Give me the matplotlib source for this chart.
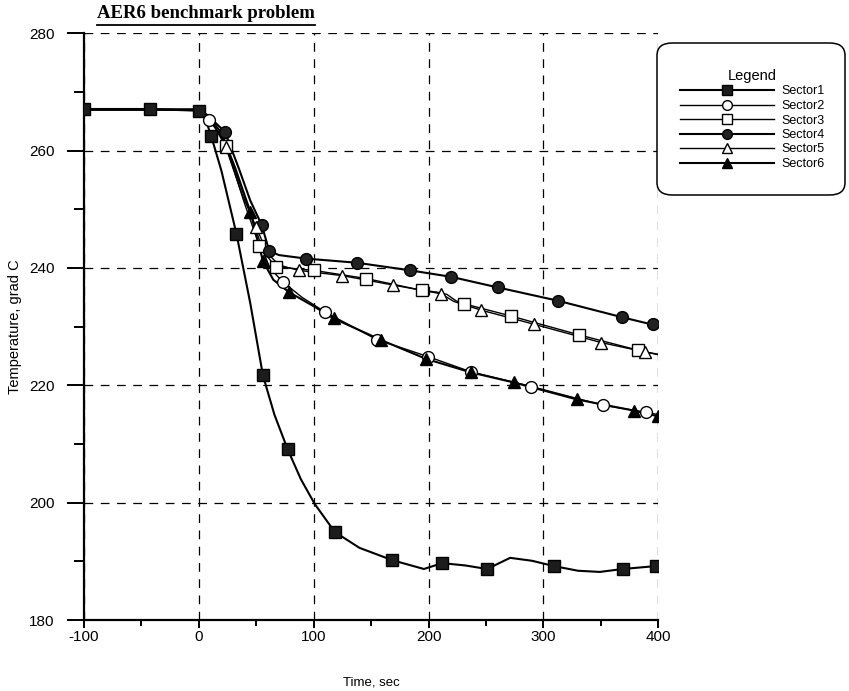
import matplotlib
matplotlib.use("Agg")
import matplotlib.pyplot as plt
from matplotlib.lines import Line2D
from matplotlib.patches import FancyBboxPatch
from matplotlib.ticker import MultipleLocator

plt.rcParams['font.family'] = ['Liberation Sans', 'DejaVu Sans']
plt.rcParams['axes.unicode_minus'] = False

# Sector1 - filled squares, thick line
s1_t = [-100, -42, 0, 5, 11, 20, 33, 45, 56, 66, 77.5, 89, 101, 118.5, 140, 168.5,
        196, 212, 232, 251, 271, 290, 309, 330, 349, 369, 398]
s1_T = [267.1, 267.1, 266.8, 266, 262.5, 256.5, 245.8, 234.0, 221.7, 215.0, 209.1, 204, 199.8,
        195, 192.3, 190.2, 188.7, 189.7, 189.3, 188.7, 190.6, 190.1, 189.2, 188.4, 188.2, 188.7, 189.2]
s1_mt = [-100, -42, 0, 11, 33, 56, 77.5, 118.5, 168.5, 212, 251, 309, 369, 398]
s1_mT = [267.1, 267.1, 266.8, 262.5, 245.8, 221.7, 209.1, 195, 190.2, 189.7, 188.7, 189.2, 188.7, 189.2]

# Sector2 - open circles
s2_t = [-100, 0, 9, 20, 32, 45, 55, 62, 73.5, 90, 110, 155, 199.5, 237, 289.5, 352, 389.5, 400]
s2_T = [267, 267, 265.2, 262.5, 256.5, 249.5, 243.5, 240, 237.6, 235, 232.5, 227.8, 224.9,
        222.3, 219.8, 216.6, 215.4, 215.0]
s2_mt = [9, 73.5, 110, 155, 199.5, 237, 289.5, 352, 389.5]
s2_mT = [265.2, 237.6, 232.5, 227.8, 224.9, 222.3, 219.8, 216.6, 215.4]

# Sector3 - open squares
s3_t = [-100, 0, 10, 24, 40, 53, 67, 100, 146, 194, 207, 216, 224, 231, 272, 331, 382, 400]
s3_T = [267, 267, 265.5, 260.8, 251, 243.7, 240.2, 239.6, 238.2, 236.2, 235.9, 235.5, 234.4,
        233.9, 231.8, 228.6, 226.0, 225.2]
s3_mt = [24, 53, 67, 100, 146, 194, 231, 272, 331, 382]
s3_mT = [260.8, 243.7, 240.2, 239.6, 238.2, 236.2, 233.9, 231.8, 228.6, 226.0]

# Sector4 - filled circles, thick line
s4_t = [-100, 0, 8, 23, 35, 45, 55, 61.5, 70, 93.5, 137.5, 184, 219.5, 260, 313, 368.5, 400]
s4_T = [267, 267, 266, 263.2, 257, 251.5, 247.3, 242.9, 242.2, 241.6, 240.9, 239.6, 238.5,
        236.7, 234.4, 231.6, 230.1]
s4_mt = [23, 55, 61.5, 93.5, 137.5, 184, 219.5, 260, 313, 368.5, 395.5]
s4_mT = [263.2, 247.3, 242.9, 241.6, 240.9, 239.6, 238.5, 236.7, 234.4, 231.6, 230.4]

# Sector5 - open triangles
s5_t = [-100, 0, 10, 23.5, 38, 50, 60, 70, 87, 125, 169, 211, 222, 246, 292, 350, 388, 400]
s5_T = [267, 267, 265.5, 260.7, 252.5, 247, 242.5, 240.5, 239.6, 238.7, 237.1, 235.6, 234.3,
        232.8, 230.4, 227.3, 225.7, 225.3]
s5_mt = [23.5, 50, 87, 125, 169, 211, 246, 292, 350, 388]
s5_mT = [260.7, 247, 239.6, 238.7, 237.1, 235.6, 232.8, 230.4, 227.3, 225.7]

# Sector6 - filled triangles, thick line
s6_t = [-100, 0, 8, 20, 32, 45, 56, 65, 78.5, 100, 117.5, 159, 198, 237, 274, 329, 378.5, 400]
s6_T = [267, 267, 266, 263, 257, 249.6, 241.2, 238, 235.9, 233.5, 231.4, 227.7, 224.5, 222.2,
        220.5, 217.6, 215.7, 214.7]
s6_mt = [45, 56, 78.5, 117.5, 159, 198, 237, 274, 329, 378.5, 399.5]
s6_mT = [249.6, 241.2, 235.9, 231.4, 227.7, 224.5, 222.2, 220.5, 217.6, 215.7, 214.8]

names = ["Sector1", "Sector2", "Sector3", "Sector4", "Sector5", "Sector6"]
series = [(s1_t, s1_T, s1_mt, s1_mT), (s2_t, s2_T, s2_mt, s2_mT), (s3_t, s3_T, s3_mt, s3_mT),
          (s4_t, s4_T, s4_mt, s4_mT), (s5_t, s5_T, s5_mt, s5_mT), (s6_t, s6_T, s6_mt, s6_mT)]
styles = [dict(marker='s', mfc='#1c1c1c', lw=1.5, ms=8),
          dict(marker='o', mfc='white', lw=1.0, ms=8.5),
          dict(marker='s', mfc='white', lw=1.0, ms=8.5),
          dict(marker='o', mfc='#222222', lw=1.5, ms=8.5),
          dict(marker='^', mfc='white', lw=1.0, ms=8),
          dict(marker='^', mfc='black', lw=1.5, ms=8)]

fig = plt.figure(figsize=(8.49, 6.91), dpi=100)
ax = fig.add_axes([0.0984, 0.1027, 0.6772, 0.8491])

handles = []
for (t, T, mt, mT), st in zip(series, styles):
    ax.plot(t, T, color='black', lw=st['lw'], zorder=3)
    ax.plot(mt, mT, ls='none', marker=st['marker'], ms=st['ms'], mfc=st['mfc'],
            mec='black', mew=1.0, zorder=4)
    handles.append(Line2D([], [], color='black', lw=st['lw'], marker=st['marker'],
                          ms=st['ms'] - 1.5, mfc=st['mfc'], mec='black', mew=1.0))

ax.set_xlim(-100, 400)
ax.set_ylim(180, 280)
ax.xaxis.set_major_locator(MultipleLocator(100))
ax.xaxis.set_minor_locator(MultipleLocator(50))
ax.yaxis.set_major_locator(MultipleLocator(20))
ax.yaxis.set_minor_locator(MultipleLocator(10))
ax.grid(True, which='major', color='black', lw=0.9, ls=(0, (7, 6)))
ax.set_axisbelow(True)
for s in ['top', 'right']:
    ax.spines[s].set_visible(False)
for s in ['left', 'bottom']:
    ax.spines[s].set_linewidth(1.6)
ax.tick_params(axis='x', which='major', direction='out', length=6, width=1.4, labelsize=11, pad=1.5)
ax.tick_params(axis='x', which='minor', direction='out', length=4, width=1.4)
ax.tick_params(axis='y', which='major', direction='out', length=12, width=1.4, labelsize=11, pad=9)
ax.tick_params(axis='y', which='minor', direction='out', length=7, width=1.4)

ax.set_xlabel("Time, sec", fontsize=9.5, labelpad=23)
ax.set_ylabel("Temperature, grad C", fontsize=10.5, labelpad=5)

# title, underlined
ttl = fig.text(97 / 849, 1 - 14 / 691, "AER6 benchmark problem", fontsize=13.5, fontweight='bold',
               family='Liberation Serif', ha='left', va='center')
fig.canvas.draw()
bb = ttl.get_window_extent().transformed(fig.transFigure.inverted())
fig.add_artist(Line2D([bb.x0, bb.x1], [bb.y0 - 0.003, bb.y0 - 0.003], color='black', lw=1.3,
                      transform=fig.transFigure))

# legend box
box = FancyBboxPatch((657 / 849, 1 - 195 / 691), 188 / 849, 152 / 691,
                     boxstyle="round,pad=0,rounding_size=0.018", transform=fig.transFigure,
                     facecolor='white', edgecolor='black', lw=1.1, zorder=5)
fig.patches.append(box)
leg = fig.legend(handles, names, loc='upper left', bbox_to_anchor=(680 / 849, 1 - 69 / 691),
                 frameon=False, fontsize=9, title="Legend", title_fontsize=10.5,
                 handlelength=7.5, handletextpad=0.6, labelspacing=0.2, borderpad=0,
                 borderaxespad=0)
leg.set_zorder(6)

fig.savefig("out.png", dpi=100)
